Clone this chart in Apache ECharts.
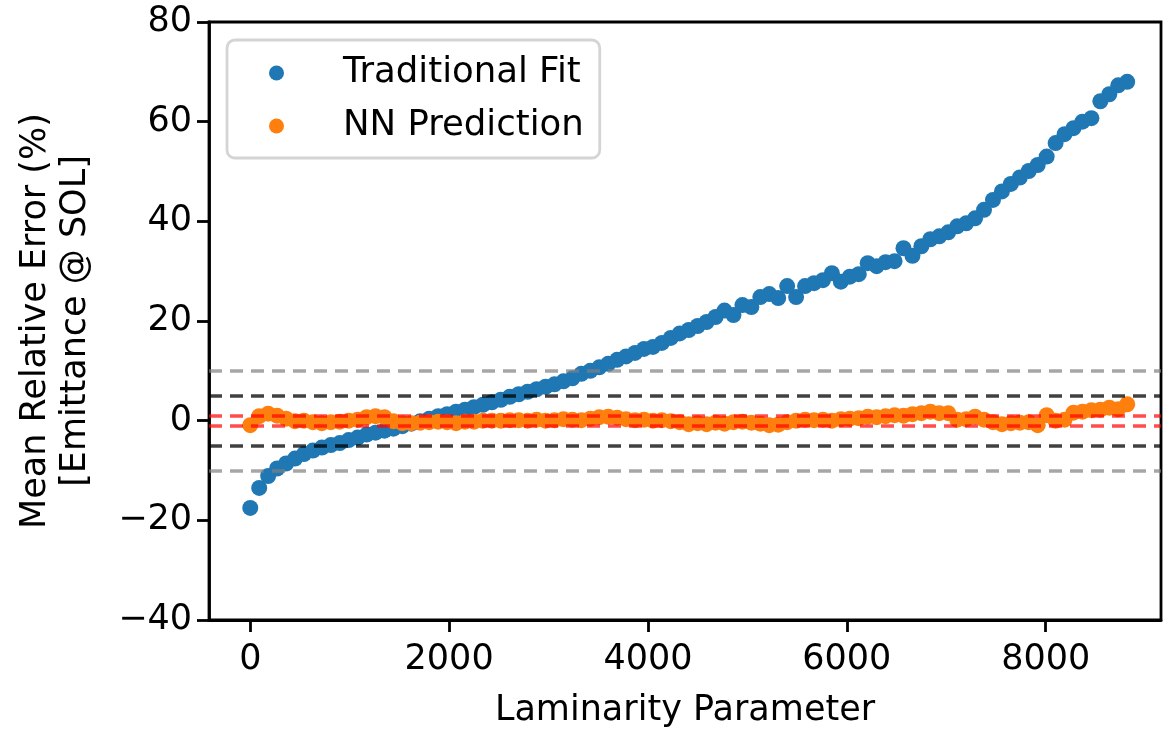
<!DOCTYPE html>
<html>
<head>
<meta charset="utf-8">
<script src="https://cdn.jsdelivr.net/npm/echarts@6/dist/echarts.min.js"></script>
<style>
html,body{margin:0;padding:0;background:#fff;}
#chart{width:1166px;height:731px;}
</style>
</head>
<body>
<div id="chart"></div>
<script>
// Laminarity parameter values (x)
const laminarity = [0,90,180,270,360,450,540,630,720,810,900,990,1080,1170,1260,1350,1440,1530,1620,1710,
1800,1890,1980,2070,2160,2250,2340,2430,2520,2610,2700,2790,2880,2970,3060,3150,3240,3330,3420,3510,
3600,3690,3780,3870,3960,4050,4140,4230,4320,4410,4500,4590,4680,4770,4860,4950,5040,5130,5220,5310,
5400,5490,5580,5670,5760,5850,5940,6030,6120,6210,6300,6390,6480,6570,6660,6750,6840,6930,7020,7110,
7200,7290,7380,7470,7560,7650,7740,7830,7920,8010,8100,8190,8280,8370,8460,8550,8640,8730,8820];

// Traditional Fit mean relative error (%)
const traditionalFit = [-17.5,-13.5,-11.1,-9.6,-8.6,-7.6,-6.7,-6.0,-5.4,-4.9,-4.5,-3.9,-3.4,-2.8,-2.4,-2.0,-1.6,-1.1,-0.6,-0.1,
0.4,0.9,1.3,1.8,2.2,2.7,3.2,3.7,4.2,4.8,5.3,5.8,6.3,6.8,7.3,7.9,8.5,9.4,10.0,10.7,
11.4,12.2,12.9,13.6,14.4,14.8,15.6,16.6,17.5,18.2,19.0,19.8,20.8,22.1,21.2,23.2,22.8,24.8,25.4,24.6,
27.0,24.8,27.0,27.6,28.2,29.6,27.9,28.9,29.4,31.6,31.0,31.8,32.0,34.6,33.1,35.0,36.4,37.0,37.8,39.0,
39.6,40.6,42.3,44.3,46.0,47.5,48.8,50.1,51.3,53.0,55.7,57.5,58.7,60.0,60.7,64.1,65.5,67.3,68.0];

// NN Prediction mean relative error (%)
const nnPrediction = [-0.9,0.9,1.4,1.0,0.4,-0.1,0.0,-0.3,-0.5,-0.3,-0.2,0.0,0.2,0.7,0.9,0.7,-0.1,-0.5,-0.5,-0.4,
-0.3,-0.2,-0.3,-0.5,-0.2,-0.2,0.0,0.0,0.0,0.1,0.1,0.0,0.2,0.0,0.1,0.3,0.2,0.1,0.4,0.7,
0.8,0.6,0.3,0.1,0.2,0.0,0.1,-0.1,-0.3,-0.7,-0.5,-0.7,-0.4,-0.6,-0.3,-0.2,-0.4,-0.6,-0.9,-0.8,
-0.3,0.0,0.2,0.1,0.2,0.0,0.3,0.4,0.5,0.8,0.7,0.9,1.1,1.0,1.3,1.5,1.8,1.5,1.5,0.2,
0.3,0.8,0.2,-0.3,-0.7,-0.5,-0.4,-0.3,-0.9,1.1,0.0,0.2,1.6,1.8,2.1,2.2,2.6,2.3,3.3];

// Reference threshold lines (%)
const grayLevels = [10, -10];
const darkLevels = [5, -5];
const redLevels = [1, -1];

const xTicks = [0, 2000, 4000, 6000, 8000];
const seriesNames = ['Traditional Fit', 'NN Prediction'];

const FONT = 'DejaVu Sans';
const fmt = v => (v < 0 ? '\u2212' + Math.abs(v) : String(v));

const chart = echarts.init(document.getElementById('chart'), null, {renderer: 'canvas'});

const pairs = (xs, ys) => xs.map((x, i) => [x, ys[i]]);

const lineStyleFor = (color) => ({color: color, width: 3.5, type: [13, 8]});
const markData = []
  .concat(grayLevels.map(v => ({yAxis: v, lineStyle: lineStyleFor('rgba(128,128,128,0.7)')})))
  .concat(darkLevels.map(v => ({yAxis: v, lineStyle: lineStyleFor('rgba(0,0,0,0.75)')})))
  .concat(redLevels.map(v => ({yAxis: v, lineStyle: lineStyleFor('rgba(255,0,0,0.7)')})));

const option = {
  animation: false,
  backgroundColor: '#fff',
  textStyle: {fontFamily: FONT},
  grid: {
    left: 209, right: 5, top: 22, bottom: 111,
    outerBoundsMode: 'none',
    containLabel: false,
    show: true, borderColor: '#000', borderWidth: 2.8, backgroundColor: 'transparent'
  },
  legend: {
    data: seriesNames,
    orient: 'vertical',
    left: 227, top: 40,
    padding: [13, 16, 12, 42],
    itemGap: 13,
    itemWidth: 15, itemHeight: 15,
    icon: 'circle',
    backgroundColor: 'rgba(255,255,255,0.8)',
    borderColor: '#d4d4d4', borderWidth: 2.8, borderRadius: 8,
    textStyle: {fontFamily: FONT, fontSize: 35.5, color: '#000', lineHeight: 40, padding: [0, 0, 0, 54]}
  },
  xAxis: {
    type: 'value',
    min: -415, max: 9160,
    name: 'Laminarity Parameter',
    nameLocation: 'middle',
    nameGap: 73,
    nameTextStyle: {fontFamily: FONT, fontSize: 35, color: '#000'},
    axisLine: {show: true, onZero: false, lineStyle: {color: '#000', width: 2.8}},
    axisTick: {show: true, length: 12, lineStyle: {color: '#000', width: 2.8}, customValues: xTicks},
    axisLabel: {show: true, fontFamily: FONT, fontSize: 35, color: '#000', margin: 22, customValues: xTicks, formatter: fmt},
    splitLine: {show: false}
  },
  yAxis: {
    type: 'value',
    min: -40, max: 80, interval: 20,
    name: 'Mean Relative Error (%)\n[Emittance @ SOL]',
    nameLocation: 'middle',
    nameGap: 113,
    nameRotate: 90,
    nameTextStyle: {fontFamily: FONT, fontSize: 35, color: '#000', lineHeight: 40, align: 'center'},
    axisLine: {show: true, onZero: false, lineStyle: {color: '#000', width: 2.8}},
    axisTick: {show: true, length: 12, lineStyle: {color: '#000', width: 2.8}},
    axisLabel: {show: true, fontFamily: FONT, fontSize: 35, color: '#000', margin: 17, formatter: fmt},
    splitLine: {show: false}
  },
  series: [
    {
      name: seriesNames[0],
      type: 'scatter',
      symbol: 'circle',
      symbolSize: 16,
      itemStyle: {color: '#1f77b4', opacity: 1},
      data: pairs(laminarity, traditionalFit),
      z: 2
    },
    {
      name: seriesNames[1],
      type: 'scatter',
      symbol: 'circle',
      symbolSize: 16,
      itemStyle: {color: '#ff7f0e', opacity: 1},
      data: pairs(laminarity, nnPrediction),
      z: 3
    },
    {
      name: 'thresholds',
      type: 'line',
      data: [],
      z: 5,
      silent: true,
      markLine: {
        silent: true,
        symbol: ['none', 'none'],
        label: {show: false},
        animation: false,
        data: markData
      }
    }
  ]
};

chart.setOption(option);
</script>
</body>
</html>
